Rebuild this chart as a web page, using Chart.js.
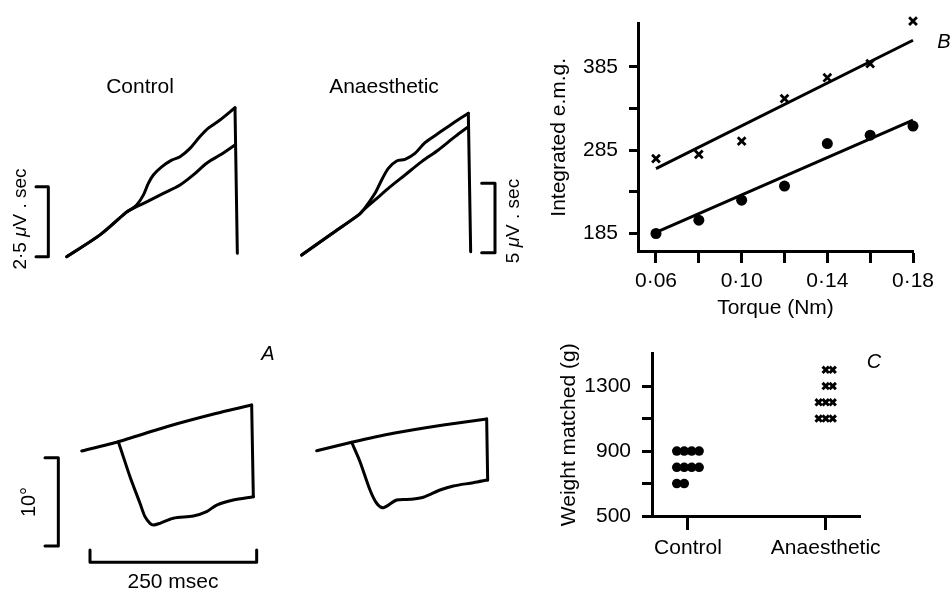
<!DOCTYPE html>
<html>
<head>
<meta charset="utf-8">
<script src="https://cdn.jsdelivr.net/npm/chart.js@4"></script>
<style>
  body { margin: 0; background: #fff; }
  canvas { position: absolute; }
</style>
</head>
<body>
<canvas id="traces" width="540" height="592" style="left:0;top:0"></canvas>
<canvas id="emg" width="412" height="330" style="left:540px;top:0"></canvas>
<canvas id="weight" width="412" height="262" style="left:540px;top:330px"></canvas>
<script>
// A: traces, x in msec, e.m.g. in uV.sec, angle in degrees
const ctrlEmgRise = [[10, 0], [60, 0.78], [97.5, 1.55], [105, 1.67]]
const ctrlEmgHigh = [[115, 1.85], [125, 2.2], [132.5, 2.62], [140, 2.92], [152.5, 3.21], [167.5, 3.45], [180, 3.57], [195, 3.87], [210, 4.29], [222.5, 4.59], [240, 4.88], [262.5, 5.32]]
const ctrlEmgLow = [[130, 1.96], [155, 2.26], [180, 2.56], [200, 2.92], [220, 3.34], [240, 3.63], [262.5, 3.99]]
const ctrlEmgDrop = [[262.5, 5.32], [266, 0.12]]

const anaEmgRise = [[2.5, -0.17], [45, 1.28], [87.5, 2.71], [95, 3.07]]
const anaEmgHigh = [[112.5, 4.28], [122.5, 5.24], [132.5, 6.08], [145, 6.61], [157.5, 6.73], [172.5, 7.16], [187.5, 7.93], [207.5, 8.6], [230, 9.35], [252.5, 10.04]]
const anaEmgLow = [[112.5, 3.8], [132.5, 4.64], [157.5, 5.6], [182.5, 6.56], [207.5, 7.4], [232.5, 8.36], [252.5, 9.08]]
const anaEmgDrop = [[252.5, 10.04], [256, 0.07]]

const ctrlAngleTop = [[32.5, 0], [87.5, 1.05], [160, 2.75], [235, 4.27], [287.5, 5.21]]
const ctrlAngleDip = [[87.5, 1.05], [92.5, -0.08], [105, -2.91], [120, -5.92], [127.5, -7.44], [135, -8.19], [140, -8.38], [150, -8.19], [170, -7.62], [200, -7.36], [220, -6.87], [235, -6.12], [260, -5.55], [290, -5.18]]
const ctrlAngleDrop = [[287.5, 5.21], [290, -5.18]]

const anaAngleTop = [[25, 0.03], [77.5, 0.99], [140, 2.0], [215, 2.94], [280, 3.62]]
const anaAngleDip = [[77.5, 0.99], [90, -1.21], [105, -4.42], [115, -5.92], [125, -6.42], [145, -5.55], [165, -5.47], [185, -5.24], [210, -4.42], [230, -3.96], [260, -3.59], [281.5, -3.28]]
const anaAngleDrop = [[280, 3.62], [281.5, -3.28]]

const emgBarControl = 2.5
const emgBarAnaesthetic = 5
const angleBar = 10
const timeBar = 250

// B
const torque = [0.06, 0.08, 0.10, 0.12, 0.14, 0.16, 0.18]
const emgAnaesthetic = [275, 280, 296, 347, 372, 389, 440]
const emgControl = [185, 201, 225, 242, 293, 303, 314]
const fitTorque = [0.06, 0.18]
const fitAnaesthetic = [263, 417]
const fitControl = [186.5, 321]
const torqueTicks = [0.06, 0.08, 0.10, 0.12, 0.14, 0.16, 0.18]
const torqueLabelled = [0.06, 0.10, 0.14, 0.18]
const emgTicks = [185, 235, 285, 335, 385]
const emgLabelled = [185, 285, 385]

// C
const groups = ['Control', 'Anaesthetic']
const weightControl = [900, 900, 900, 900, 800, 800, 800, 800, 700, 700]
const weightAnaesthetic = [1400, 1400, 1300, 1300, 1200, 1200, 1200, 1100, 1100, 1100]
const weightTicks = [500, 700, 900, 1100, 1300]
const weightLabelled = [500, 900, 1300]

const FONT = '"Liberation Sans", Arial, sans-serif'
Chart.defaults.font.family = FONT
Chart.defaults.font.size = 21
Chart.defaults.color = '#000'

const pts = a => a.map(([x, y]) => ({ x, y }))
const pairs = (xs, ys) => xs.map((x, i) => ({ x, y: ys[i] }))
const has = (list, v) => list.some(t => Math.abs(t - v) < 1e-9)
const fontOf = (size, italic) => (italic ? 'italic ' : '') + size + 'px ' + FONT

function noteLayer(items) {
  return {
    id: 'notes',
    afterDraw(chart) {
      const ctx = chart.ctx
      items.forEach(n => {
        const parts = n.parts || [[n.text, n.italic]]
        ctx.save()
        ctx.translate(n.x, n.y)
        if (n.up) ctx.rotate(-Math.PI / 2)
        ctx.fillStyle = '#000'
        ctx.textBaseline = 'alphabetic'
        ctx.textAlign = 'left'
        let width = 0
        parts.forEach(([t, it]) => { ctx.font = fontOf(n.size, it); width += ctx.measureText(t).width })
        let at = -width / 2
        parts.forEach(([t, it]) => {
          ctx.font = fontOf(n.size, it)
          ctx.fillText(t, at, 0)
          at += ctx.measureText(t).width
        })
        ctx.restore()
      })
    }
  }
}

// hidden axis range: origin in px, units per px
function span(origin, perPx, size, up) {
  return up ? { min: -(size - origin) * perPx, max: origin * perPx }
            : { min: -origin * perPx, max: (size - origin) * perPx }
}

function vBracket(x, y0, size, tick) {
  return [[x - tick, y0 + size], [x, y0 + size], [x, y0], [x - tick, y0]]
}
function hBracket(x0, y, size, tick) {
  return [[x0, y + tick], [x0, y], [x0 + size, y], [x0 + size, y + tick]]
}

function trace(data, xAxisID, yAxisID, tension) {
  return {
    data: pts(data), xAxisID, yAxisID, showLine: true, tension,
    borderColor: '#000', borderWidth: 3, pointRadius: 0,
    borderCapStyle: 'round', borderJoinStyle: 'round'
  }
}

const hidden = r => Object.assign({ type: 'linear', display: false }, r)

new Chart(document.getElementById('traces'), {
  type: 'scatter',
  data: {
    datasets: [
      trace(ctrlEmgRise.concat(ctrlEmgHigh), 'xC', 'yEC', 0.3),
      trace(ctrlEmgRise.concat(ctrlEmgLow), 'xC', 'yEC', 0.3),
      trace(ctrlEmgDrop, 'xC', 'yEC', 0),
      trace(anaEmgRise.concat(anaEmgHigh), 'xA', 'yEA', 0.3),
      trace(anaEmgRise.concat(anaEmgLow), 'xA', 'yEA', 0.3),
      trace(anaEmgDrop, 'xA', 'yEA', 0),
      trace(ctrlAngleTop, 'xC', 'yAng', 0.2),
      trace(ctrlAngleDip, 'xC', 'yAng', 0.3),
      trace(ctrlAngleDrop, 'xC', 'yAng', 0),
      trace(anaAngleTop, 'xA', 'yAng', 0.2),
      trace(anaAngleDip, 'xA', 'yAng', 0.3),
      trace(anaAngleDrop, 'xA', 'yAng', 0),
      trace(vBracket(-17.5, 0, emgBarControl, 18.5), 'xC', 'yEC', 0),
      trace(vBracket(292.5, 0, emgBarAnaesthetic, 20), 'xA', 'yEA', 0),
      trace(vBracket(-2.5, -10.76, angleBar, 20), 'xC', 'yAng', 0),
      trace(hBracket(45, -12.6, timeBar, 1.4), 'xC', 'yAng', 0)
    ]
  },
  options: {
    responsive: false, animation: false, devicePixelRatio: 1, events: [],
    layout: { padding: 0 },
    plugins: { legend: { display: false }, tooltip: { enabled: false } },
    scales: {
      x: { display: false }, y: { display: false },
      xC: hidden(span(60, 1.5, 540)),
      xA: hidden(span(300, 1.5, 540)),
      yEC: hidden(span(256.7, 1 / 28, 592, true)),
      yEA: hidden(span(252.7, 1 / 13.88, 592, true)),
      yAng: hidden(span(451, 1 / 8.83, 592, true))
    }
  },
  plugins: [noteLayer([
    { text: 'Control', x: 140, y: 93, size: 21 },
    { text: 'Anaesthetic', x: 384, y: 93, size: 21 },
    { text: 'A', x: 268, y: 360, size: 20, italic: true },
    { parts: [['2·5 ', false], ['μ', true], ['V . sec', false]], x: 25.5, y: 219, size: 19, up: true },
    { parts: [['5 ', false], ['μ', true], ['V . sec', false]], x: 519, y: 221, size: 19, up: true },
    { text: '10°', x: 35, y: 502, size: 20, up: true },
    { text: '250 msec', x: 173, y: 588, size: 21 }
  ])]
})

const axisLook = (tickLength) => ({
  border: { display: true, color: '#000', width: 3 },
  grid: { drawOnChartArea: false, tickLength, tickWidth: 3, tickColor: '#000' }
})

new Chart(document.getElementById('emg'), {
  type: 'scatter',
  data: {
    datasets: [
      { data: pairs(torque, emgAnaesthetic), pointStyle: 'crossRot', pointRadius: 5.5, pointBorderWidth: 2.8, pointBorderColor: '#000', clip: false },
      { data: pairs(torque, emgControl), pointStyle: 'circle', pointRadius: 5.5, pointBorderWidth: 0, pointBackgroundColor: '#000', clip: false },
      { data: pairs(fitTorque, fitAnaesthetic), showLine: true, pointRadius: 0, borderColor: '#000', borderWidth: 3, clip: false },
      { data: pairs(fitTorque, fitControl), showLine: true, pointRadius: 0, borderColor: '#000', borderWidth: 3, clip: false }
    ]
  },
  options: {
    responsive: false, animation: false, devicePixelRatio: 1, events: [],
    layout: { padding: { top: 16, right: 39, left: 0, bottom: 0 } },
    plugins: { legend: { display: false }, tooltip: { enabled: false } },
    scales: {
      x: Object.assign(axisLook(12), {
        type: 'linear', min: 0.0516, max: 0.18,
        afterBuildTicks: a => { a.ticks = torqueTicks.map(v => ({ value: v })) },
        afterFit: a => { a.height = 79 },
        ticks: { autoSkip: false, maxRotation: 0, padding: 6, callback: v => has(torqueLabelled, v) ? v.toFixed(2).replace('.', '·') : '' },
        title: { display: true, text: 'Torque (Nm)', padding: { top: 0, bottom: 9 } }
      }),
      y: Object.assign(axisLook(9), {
        type: 'linear', min: 164, max: 437,
        afterBuildTicks: a => { a.ticks = emgTicks.map(v => ({ value: v })) },
        afterFit: a => { a.width = 98 },
        ticks: { autoSkip: false, padding: 11, callback: v => has(emgLabelled, v) ? String(v) : '' },
        title: { display: true, text: 'Integrated e.m.g.', padding: { top: 7, bottom: 0 } }
      })
    }
  },
  plugins: [noteLayer([{ text: 'B', x: 404, y: 48, size: 20, italic: true }])]
})

// side by side rows of equal values
function rows(values, centre, step, align) {
  const counts = {}
  values.forEach(v => { counts[v] = (counts[v] || 0) + 1 })
  const widest = Math.max(...Object.values(counts))
  const seen = {}
  return values.map(v => {
    seen[v] = (seen[v] || 0) + 1
    const slot = align === 'left' ? seen[v] - 1 : widest - counts[v] + seen[v] - 1
    return { x: centre + (slot - (widest - 1) / 2) * step, y: v }
  })
}

new Chart(document.getElementById('weight'), {
  type: 'scatter',
  data: {
    datasets: [
      { data: rows(weightControl, 1, 0.054, 'left'), pointStyle: 'circle', pointRadius: 4.8, pointBorderWidth: 0, pointBackgroundColor: '#000', clip: false },
      { data: rows(weightAnaesthetic, 2, 0.051, 'right'), pointStyle: 'crossRot', pointRadius: 4.5, pointBorderWidth: 3, pointBorderColor: '#000', clip: false }
    ]
  },
  options: {
    responsive: false, animation: false, devicePixelRatio: 1, events: [],
    layout: { padding: { top: 14, right: 92, left: 0, bottom: 0 } },
    plugins: { legend: { display: false }, tooltip: { enabled: false } },
    scales: {
      x: Object.assign(axisLook(14), {
        type: 'linear', min: 0.739, max: 2.249,
        afterBuildTicks: a => { a.ticks = groups.map((g, i) => ({ value: i + 1 })) },
        afterFit: a => { a.height = 76 },
        ticks: { autoSkip: false, maxRotation: 0, padding: 6, callback: (v, i) => groups[i] }
      }),
      y: Object.assign(axisLook(10), {
        type: 'linear', min: 500, max: 1500,
        afterBuildTicks: a => { a.ticks = weightTicks.map(v => ({ value: v })) },
        afterFit: a => { a.width = 112 },
        ticks: { autoSkip: false, padding: 11, callback: v => has(weightLabelled, v) ? String(v) : '' },
        title: { display: true, text: 'Weight matched (g)', padding: { top: 17, bottom: 0 } }
      })
    }
  },
  plugins: [noteLayer([{ text: 'C', x: 334, y: 38, size: 20, italic: true }])]
})
</script>
</body>
</html>
